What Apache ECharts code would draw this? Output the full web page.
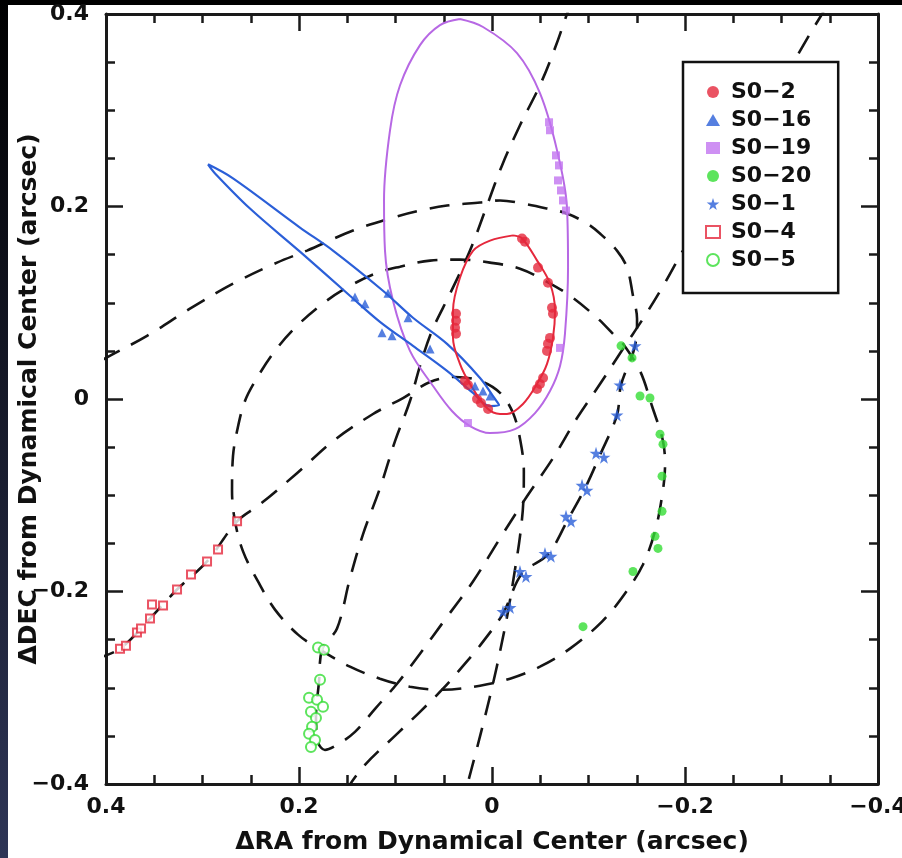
<!DOCTYPE html>
<html><head><meta charset="utf-8">
<script src="https://cdn.jsdelivr.net/npm/echarts@6/dist/echarts.min.js"></script>
<style>
html,body{margin:0;padding:0;background:#fff;width:902px;height:858px;overflow:hidden;}
#topbar{position:absolute;left:0;top:0;width:902px;height:5px;background:#000;}
#leftbar{position:absolute;left:0;top:0;width:8px;height:858px;background:linear-gradient(#000,#2e3556);}
#chart{position:absolute;left:0;top:0;width:902px;height:858px;}
</style></head><body>
<div id="topbar"></div><div id="leftbar"></div><div id="chart"></div>
<script>
// ---------- DATA (ΔRA, ΔDEC in arcsec) ----------
const tickValues = [0.4, 0.2, 0, -0.2, -0.4];
const starNames = ['S0\u22122','S0\u221216','S0\u221219','S0\u221220','S0\u22121','S0\u22124','S0\u22125'];

// solid fitted orbits
const s02Orbit = [[-0.0218,0.170],[-0.031,0.167],[-0.0466,0.144],[-0.0601,0.120],[-0.0653,0.0917],[-0.0632,0.0635],[-0.057,0.0365],[-0.0466,0.0156],[-0.0321,-0.0052],[-0.0155,-0.0156],[-0.0083,-0.0156],[0.0052,-0.0094],[0.0228,0.0156],[0.0332,0.0365],[0.0404,0.0635],[0.0404,0.0917],[0.0332,0.126],[0.0197,0.154],[0.002,0.1646],[-0.0218,0.170]];
const s016Orbit = [[0.2943,0.2438],[0.2684,0.2292],[0.199,0.1781],[0.1648,0.1542],[0.113,0.1125],[0.0819,0.0844],[0.0466,0.0573],[0.0124,0.0219],[-0.0031,0],[-0.0073,-0.0063],[0.0021,-0.0073],[0.0197,0.0063],[0.0466,0.0292],[0.0819,0.0552],[0.1161,0.0802],[0.1472,0.1073],[0.199,0.1531],[0.2508,0.1979],[0.287,0.2344],[0.2943,0.2438]];
const s019Orbit = [[0.0332,0.3948],[0.0093,0.3865],[-0.0259,0.3594],[-0.0497,0.3177],[-0.0674,0.2583],[-0.0777,0.199],[-0.0788,0.1365],[-0.0756,0.0677],[-0.0705,0.0344],[-0.0601,0.0083],[-0.0446,-0.0146],[-0.0238,-0.0313],[0.0021,-0.0354],[0.0228,-0.0281],[0.0415,-0.0125],[0.0611,0.0135],[0.085,0.05],[0.1026,0.1021],[0.1109,0.1542],[0.1119,0.2063],[0.1057,0.2792],[0.0953,0.326],[0.0746,0.3677],[0.0539,0.3885],[0.0332,0.3948]];

// dashed orbits
const s020Orbit = [[-0.1358,0.0573],[-0.1534,0.0292],[-0.1658,-0.0073],[-0.1772,-0.0438],[-0.1793,-0.0698],[-0.1762,-0.1010],[-0.1689,-0.1375],[-0.1565,-0.1719],[-0.1378,-0.2021],[-0.1140,-0.2313],[-0.0808,-0.2594],[-0.0497,-0.2781],[-0.0187,-0.2906],[0.0124,-0.2979],[0.0508,-0.3021],[0.0850,-0.2990],[0.1161,-0.2906],[0.1472,-0.2781],[0.1782,-0.2604],[0.2010,-0.2448],[0.2249,-0.2188],[0.2425,-0.1896],[0.2580,-0.1583],[0.2663,-0.1271],[0.2694,-0.0958],[0.2684,-0.0594],[0.2642,-0.0333],[0.2560,-0.0021],[0.2435,0.0219],[0.2249,0.0500],[0.2041,0.0740],[0.1782,0.0969],[0.1523,0.1146],[0.1212,0.1302],[0.0953,0.1375],[0.0642,0.1438],[0.0332,0.1448],[0.0021,0.1417],[-0.0290,0.1354],[-0.0549,0.1229],[-0.0808,0.1073],[-0.1088,0.0844],[-0.1254,0.0677],[-0.1358,0.0573]];
const s01Orbit = [[0.1523,-0.4083],[0.1337,-0.3823],[0.0984,-0.3479],[0.0746,-0.3250],[0.0508,-0.3010],[0.0280,-0.2750],[0.0093,-0.2521],[-0.0114,-0.2229],[-0.0311,-0.1813],[-0.0580,-0.1615],[-0.0788,-0.1250],[-0.0964,-0.0927],[-0.1119,-0.0583],[-0.1295,-0.0167],[-0.1337,0.0146],[-0.1482,0.0552],[-0.1503,0.0833],[-0.1461,0.1073],[-0.1399,0.1365],[-0.1295,0.1542],[-0.1119,0.1719],[-0.0984,0.1823],[-0.0777,0.1927],[-0.0570,0.1979],[-0.0321,0.2031],[-0.0083,0.2063],[0.0124,0.2042],[0.0466,0.2010],[0.0746,0.1958],[0.1026,0.1885],[0.1440,0.1750],[0.1917,0.1542],[0.2228,0.1417],[0.2684,0.1198],[0.3130,0.0938],[0.3575,0.0656],[0.4,0.0427],[0.4166,0.0333]];
const s04Orbit = [[0.4114,-0.2698],[0.3855,-0.2594],[0.3544,-0.2281],[0.3264,-0.1979],[0.2953,-0.1688],[0.2642,-0.1271],[0.2404,-0.1094],[0.2021,-0.0771],[0.1648,-0.0438],[0.1233,-0.0156],[0.0922,0.0010],[0.0642,0.0177],[0.0383,0.0229],[0.0124,0.0188],[-0.0083,0.0063],[-0.0218,-0.0146],[-0.0295,-0.0438],[-0.0330,-0.0750],[-0.0325,-0.1063],[-0.0290,-0.1427],[-0.0235,-0.1792],[-0.0166,-0.2208],[-0.0083,-0.2625],[-0.0010,-0.2958],[0.0073,-0.3302],[0.0166,-0.3667],[0.0259,-0.4021],[0.0301,-0.4188]];
const s05Orbit = [[-0.0829,0.4146],[-0.0777,0.4],[-0.0653,0.3646],[-0.0497,0.3260],[-0.0290,0.2844],[-0.0104,0.2427],[0.0052,0.2010],[0.0228,0.1542],[0.0435,0.1094],[0.0622,0.0708],[0.0746,0.0344],[0.0850,-0.0021],[0.1005,-0.0438],[0.1161,-0.0927],[0.1337,-0.1406],[0.1472,-0.1865],[0.1606,-0.2385],[0.1762,-0.2604],[0.1793,-0.2938],[0.1824,-0.3302],[0.1803,-0.3563],[0.1731,-0.3646],[0.1606,-0.3594],[0.1420,-0.3458],[0.1212,-0.3219],[0.0984,-0.2958],[0.0746,-0.2646],[0.0487,-0.2292],[0.0197,-0.1896],[-0.0083,-0.1448],[-0.0363,-0.1010],[-0.0632,-0.0615],[-0.0881,-0.0198],[-0.1119,0.0156],[-0.1378,0.0552],[-0.1585,0.0865],[-0.1793,0.1208],[-0.1979,0.1542],[-0.2622,0.2625],[-0.3275,0.3760],[-0.3420,0.4],[-0.3503,0.4146]];

// measured positions
const s02Pts = [[-0.0311,0.1667],[-0.0342,0.1635],[-0.0477,0.1365],[-0.058,0.1208],[-0.0622,0.0948],[-0.0632,0.0885],[-0.0601,0.0635],[-0.058,0.0573],[-0.057,0.05],[-0.0529,0.0219],[-0.0497,0.0156],[-0.0466,0.0104],[0.0373,0.0885],[0.0373,0.0813],[0.0383,0.074],[0.0373,0.0677],[0.028,0.0188],[0.0249,0.0146],[0.0155,0],[0.0114,-0.0042],[0.0041,-0.0104]];
const s016Pts = [[0.142,0.106],[0.1316,0.099],[0.1078,0.110],[0.114,0.0688],[0.1036,0.0656],[0.087,0.0844],[0.0642,0.052],[0.0176,0.0135],[0.0093,0.0083],[0.0021,0.0031]];
const s019Pts = [[-0.0591,0.2875],[-0.0601,0.2792],[-0.0663,0.2531],[-0.0694,0.2427],[-0.0684,0.2271],[-0.0715,0.2167],[-0.0736,0.2063],[-0.0767,0.1958],[-0.0705,0.0531],[0.0249,-0.025]];
const s020Pts = [[-0.1337,0.0552],[-0.1451,0.0427],[-0.1534,0.0031],[-0.1637,0.001],[-0.1741,-0.0365],[-0.1772,-0.0469],[-0.1762,-0.0802],[-0.1762,-0.1167],[-0.1689,-0.1427],[-0.172,-0.1552],[-0.1461,-0.1792],[-0.0943,-0.2365]];
const s01Pts = [[-0.0114,-0.2208],[-0.0187,-0.2167],[-0.029,-0.1792],[-0.0352,-0.1844],[-0.0549,-0.1604],[-0.0611,-0.1635],[-0.0767,-0.1219],[-0.0819,-0.1271],[-0.0933,-0.0896],[-0.0984,-0.0948],[-0.1078,-0.0563],[-0.116,-0.0604],[-0.1295,-0.0167],[-0.1326,0.0146],[-0.1482,0.0552]];
const s04Pts = [[0.3855,-0.2594],[0.3793,-0.2563],[0.3679,-0.2427],[0.3637,-0.2385],[0.3544,-0.2281],[0.3523,-0.2135],[0.3409,-0.2146],[0.3264,-0.1979],[0.3119,-0.1823],[0.2953,-0.1688],[0.2839,-0.1563],[0.2642,-0.1271]];
const s05Pts = [[0.1803,-0.2583],[0.1741,-0.2604],[0.1782,-0.2917],[0.1896,-0.3104],[0.1813,-0.3125],[0.1751,-0.3198],[0.1876,-0.325],[0.1824,-0.3313],[0.1865,-0.3406],[0.1896,-0.3479],[0.1834,-0.3542],[0.1876,-0.3615]];

// ---------- STYLE ----------
const RED='#e5283c', BLUE='#2b5fd8', VIOLET='#b768e4', VIOLET_PT='#c274f0', GREEN='#34dd34';
const STAR='path://M50,0 L61,35 L98,35 L68,57 L79,91 L50,70 L21,91 L32,57 L2,35 L39,35 Z';
const fmt = v => Math.abs(v) < 1e-9 ? '0' : (v < 0 ? '\u2212' : '') + Math.abs(v).toFixed(1);
const AX = '#1a1a1a';
const tickFont = {fontFamily:'DejaVu Sans', fontWeight:'bold', fontSize:22, color:'#111'};
const titleFont = {fontFamily:'DejaVu Sans', fontWeight:'bold', fontSize:25, color:'#111'};

function axisBase(showLabel, margin){
  return {
    type:'value', min:-0.4, max:0.4, interval:0.2,
    axisLine:{show:true, onZero:false, lineStyle:{color:AX, width:3}},
    axisTick:{show:true, inside:true, length:17, lineStyle:{color:AX, width:2.5}},
    minorTick:{show:true, splitNumber:4, length:9, lineStyle:{color:AX, width:2.5}},
    splitLine:{show:false},
    nameMoveOverlap:false,
    axisLabel:Object.assign({show:showLabel, formatter:fmt, margin:margin||8, hideOverlap:false}, tickFont)
  };
}

const dashed = (name, data) => ({
  name, type:'line', data, smooth:0.35, symbol:'none', silent:true, z:2,
  lineStyle:{color:'#151515', width:2.6, type:[20,13]}
});
const solid = (name, data, color, w) => ({
  name, type:'line', data, smooth:0.35, symbol:'none', silent:true, z:3,
  lineStyle:{color, width:w}
});
const pts = (name, data, symbol, size, color, extra) => Object.assign({
  name, type:'scatter', data, symbol, symbolSize:size, z:5,
  itemStyle:{color}
}, extra||{});

const chart = echarts.init(document.getElementById('chart'), null, {renderer:'canvas'});
chart.setOption({
  animation:false,
  backgroundColor:'transparent',
  grid:{left:106, right:24, top:14, bottom:74, containLabel:false, outerBoundsMode:'none'},
  xAxis:[
    Object.assign(axisBase(true, 12), {position:'bottom', inverse:true,
      name:'\u0394RA from Dynamical Center (arcsec)', nameLocation:'middle', nameGap:46, nameTextStyle:titleFont}),
    Object.assign(axisBase(false), {position:'top', inverse:true})
  ],
  yAxis:[
    Object.assign(axisBase(true, 17), {position:'left',
      name:'\u0394DEC from Dynamical Center (arcsec)', nameLocation:'middle', nameGap:64, nameTextStyle:titleFont}),
    Object.assign(axisBase(false), {position:'right'})
  ],
  legend:{
    orient:'vertical', left:683, top:62, padding:[18,27,21,22],
    itemWidth:14, itemHeight:12, itemGap:4,
    borderColor:'#111', borderWidth:2.5, backgroundColor:'#fff', z:10,
    textStyle:{fontFamily:'DejaVu Sans', fontWeight:'bold', fontSize:22, lineHeight:24, color:'#111', padding:[0,0,0,6]},
    data:starNames
  },
  series:[
    dashed('S0-20 orbit', s020Orbit),
    dashed('S0-1 orbit', s01Orbit),
    dashed('S0-4 orbit', s04Orbit),
    dashed('S0-5 orbit', s05Orbit),
    solid('S0-19 orbit', s019Orbit, VIOLET, 2),
    solid('S0-16 orbit', s016Orbit, BLUE, 2.2),
    solid('S0-2 orbit', s02Orbit, RED, 2),
    pts(starNames[0], s02Pts, 'circle', 10, RED),
    pts(starNames[1], s016Pts, 'triangle', 9, BLUE),
    pts(starNames[2], s019Pts, 'rect', 8, VIOLET_PT),
    pts(starNames[3], s020Pts, 'circle', 9, GREEN),
    pts(starNames[4], s01Pts, STAR, 13, BLUE),
    pts(starNames[5], s04Pts, 'emptyRect', 8, RED, {itemStyle:{color:RED, borderColor:RED, borderWidth:2.5}}),
    pts(starNames[6], s05Pts, 'emptyCircle', 10, GREEN, {itemStyle:{color:GREEN, borderColor:GREEN, borderWidth:2}})
  ]
});
</script></body></html>
